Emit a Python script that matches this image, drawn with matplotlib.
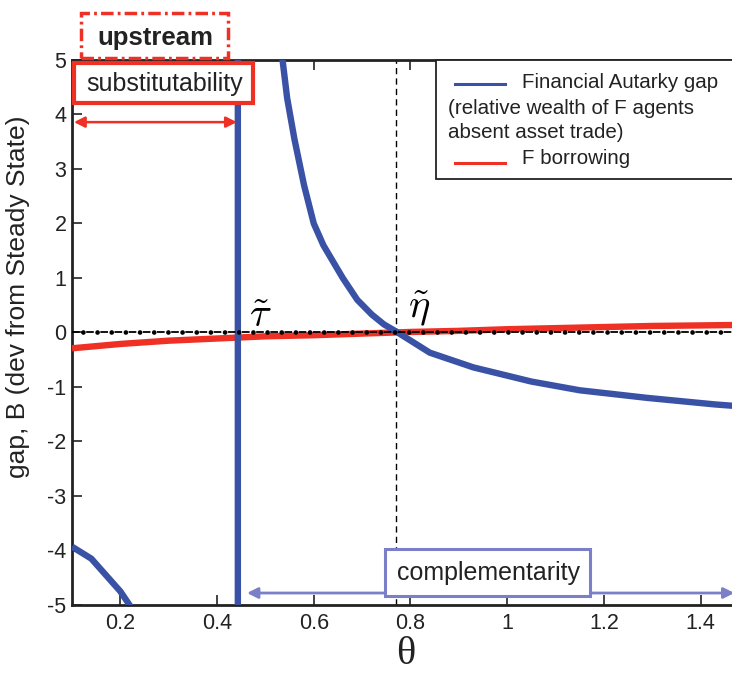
import numpy as np
import matplotlib
matplotlib.use("Agg")
import matplotlib.pyplot as plt
from matplotlib.patches import Rectangle, FancyArrowPatch
from matplotlib.lines import Line2D

plt.rcParams['font.family'] = ['Liberation Sans', 'DejaVu Sans']
plt.rcParams['axes.unicode_minus'] = False
plt.rcParams['mathtext.fontset'] = 'cm'
plt.rcParams['lines.scale_dashes'] = False

nan = np.nan
# Financial autarky gap (blue) - three branches separated by NaN
blue_theta = [0.10, 0.14, 0.18, 0.20, 0.225, nan,
              0.443, 0.443, nan,
              0.530, 0.545, 0.56, 0.58, 0.60, 0.62, 0.64, 0.66, 0.69, 0.72, 0.745,
              0.77, 0.84, 0.93, 1.05, 1.15, 1.29, 1.43, 1.49]
blue_gap = [-3.93, -4.15, -4.55, -4.75, -5.08, nan,
            -5.3, 5.3, nan,
            5.4, 4.3, 3.55, 2.7, 2.0, 1.6, 1.3, 1.0, 0.6, 0.33, 0.15,
            0.02, -0.37, -0.64, -0.90, -1.06, -1.20, -1.32, -1.36]
# F borrowing (red)
red_theta = [0.10, 0.20, 0.30, 0.40, 0.50, 0.60, 0.70, 0.80, 0.90, 1.00,
             1.10, 1.20, 1.30, 1.40, 1.49]
red_B = [-0.29, -0.21, -0.15, -0.11, -0.07, -0.05, -0.02, 0.01, 0.03, 0.06,
         0.08, 0.10, 0.12, 0.13, 0.14]

eta_tilde = 0.77
tau_tilde = 0.443
xticks = [0.2, 0.4, 0.6, 0.8, 1.0, 1.2, 1.4]
xtick_labels = ['0.2', '0.4', '0.6', '0.8', '1', '1.2', '1.4']
yticks = [-5, -4, -3, -2, -1, 0, 1, 2, 3, 4, 5]
ytick_labels = ['-5', '-4', '-3', '-2', '-1', '0', '1', '2', '3', '4', '5']

BLUE = '#3a52a5'
RED = '#ee3124'
LBLUE = '#7b7fc8'

W, H = 732, 675
fig = plt.figure(figsize=(W / 100, H / 100), dpi=100)

def fx(px):
    return px / W

def fy(py):
    return 1 - py / H

ax_l, ax_r, ax_t, ax_b = 72, 740, 60, 605
ax = fig.add_axes([fx(ax_l), fy(ax_b), fx(ax_r - ax_l), (ax_b - ax_t) / H])
ax.set_xlim(0.1, 0.1 + (ax_r - ax_l) / 483.5)
ax.set_ylim(-5, 5)

ax.axvline(eta_tilde, color='k', lw=1.0, ls=(0, (4.5, 3)), zorder=2)
ax.plot(red_theta, red_B, color=RED, lw=4.6, solid_capstyle='butt', zorder=3)
ax.plot(blue_theta, blue_gap, color=BLUE, lw=4.6, solid_capstyle='butt', zorder=4)
ax.axhline(0, color='k', lw=1.3, ls=(0, (5.5, 4.7)), zorder=5)
ax.axhline(0, color='k', lw=3.4, ls=(2.35, (0.01, 10.19)),
           dash_capstyle='round', zorder=5)

ax.set_xticks(xticks)
ax.set_xticklabels(xtick_labels)
ax.set_yticks(yticks)
ax.set_yticklabels(ytick_labels)
ax.tick_params(direction='in', length=7, width=1.2, top=True, right=False,
               labelsize=15.5, pad=6, colors='#222222')
ax.tick_params(axis='y', pad=4)
for s in ax.spines.values():
    s.set_linewidth(2.0)
    s.set_color('#222222')

ax.set_xlabel('θ', fontsize=29, family=['Liberation Serif', 'DejaVu Serif'],
              labelpad=1, color='#222222')
ax.set_ylabel('gap, B (dev from Steady State)', fontsize=19, color='#222222')
ax.yaxis.set_label_coords(-0.063, 0.565)

# tilde labels
ax.text(0.489, 0.31, r'$\tilde{\tau}$', fontsize=29, ha='center', va='center', zorder=6)
ax.text(0.818, 0.45, r'$\tilde{\eta}$', fontsize=29, ha='center', va='center', zorder=6)

# arrows
ax.add_patch(FancyArrowPatch((0.104, 3.86), (0.441, 3.86), arrowstyle='<|-|>',
                             mutation_scale=16, color=RED, lw=1.8, zorder=6,
                             shrinkA=0, shrinkB=0))
ax.add_patch(FancyArrowPatch((0.462, -4.78), (1.47, -4.78), arrowstyle='<|-|>',
                             mutation_scale=16, color=LBLUE, lw=2.0, zorder=6,
                             shrinkA=0, shrinkB=0, clip_on=False))

# boxes in figure pixel coords
def box(x0, y0, x1, y1, ec, lw, ls='-', fc='white'):
    r = Rectangle((fx(x0), fy(y1)), fx(x1 - x0), (y1 - y0) / H,
                  transform=fig.transFigure, facecolor=fc, edgecolor=ec,
                  lw=lw, ls=ls, zorder=7)
    fig.add_artist(r)

box(81, 13, 228, 58, RED, 2.5, ls=(0, (9, 3, 2, 3)))
fig.text(fx(155), fy(38), 'upstream', fontsize=18.5, fontweight='bold',
         ha='center', va='center', color='#222222', zorder=8)

box(74, 63, 253, 103, RED, 3.0)
fig.text(fx(165), fy(84), 'substitutability', fontsize=18,
         ha='center', va='center', color='#222222', zorder=8)

box(385, 549, 590, 596, LBLUE, 2.2)
fig.text(fx(488), fy(573), 'complementarity', fontsize=18,
         ha='center', va='center', color='#222222', zorder=8)

# legend drawn manually
box(436, 60, 760, 179, '#222222', 1.3)
fig.add_artist(Line2D([fx(455), fx(505)], [fy(84), fy(84)], color=BLUE, lw=2.2,
                      transform=fig.transFigure, zorder=8))
fig.add_artist(Line2D([fx(455), fx(505)], [fy(163), fy(163)], color=RED, lw=2.2,
                      transform=fig.transFigure, zorder=8))
lg_fs = 14.8
fig.text(fx(522), fy(82), 'Financial Autarky gap', fontsize=lg_fs, ha='left',
         va='center', color='#222222', zorder=8)
fig.text(fx(448), fy(108), '(relative wealth of F agents', fontsize=lg_fs,
         ha='left', va='center', color='#222222', zorder=8)
fig.text(fx(448), fy(133), 'absent asset trade)', fontsize=lg_fs, ha='left',
         va='center', color='#222222', zorder=8)
fig.text(fx(522), fy(159), 'F borrowing', fontsize=lg_fs, ha='left',
         va='center', color='#222222', zorder=8)

fig.savefig('out.png', dpi=100)
